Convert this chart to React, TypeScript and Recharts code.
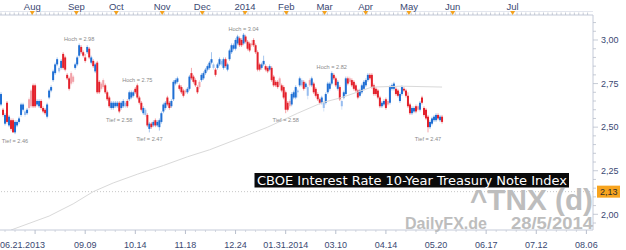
import React from 'react';
import { ComposedChart, Bar, Line, Scatter, XAxis, YAxis, ReferenceLine } from 'recharts';

// ---- daily candles (trading-day index 0 .. 220) ----
const OPEN = [
  2.63, 2.60, 2.52, 2.64, 2.51, 2.54, 2.54, 2.47, 2.51, 2.53,
  2.57, 2.60, 2.57, 2.58, 2.66, 2.71, 2.74, 2.74, 2.63, 2.62,
  2.65, 2.61, 2.60, 2.56, 2.67, 2.71, 2.77, 2.81, 2.86, 2.82,
  2.84, 2.92, 2.90, 2.80, 2.78, 2.81, 2.79, 2.84, 2.86, 2.91,
  2.96, 2.93, 2.90, 2.93, 2.95, 2.87, 2.88, 2.82, 2.87, 2.76,
  2.75, 2.77, 2.74, 2.70, 2.67, 2.61, 2.61, 2.62, 2.62, 2.64,
  2.61, 2.62, 2.62, 2.65, 2.66, 2.67, 2.68, 2.72, 2.74, 2.67,
  2.64, 2.58, 2.57, 2.57, 2.49, 2.52, 2.51, 2.54, 2.51, 2.50,
  2.53, 2.59, 2.61, 2.67, 2.64, 2.62, 2.66, 2.75, 2.76, 2.74,
  2.73, 2.71, 2.71, 2.70, 2.72, 2.81, 2.79, 2.77, 2.73, 2.76,
  2.77, 2.78, 2.81, 2.83, 2.84, 2.87, 2.84, 2.83, 2.84, 2.86,
  2.86, 2.84, 2.89, 2.83, 2.89, 2.93, 2.95, 2.95, 2.98, 3.01,
  3.00, 2.98, 3.02, 2.99, 2.98, 2.98, 3.00, 2.97, 2.93, 2.86,
  2.84, 2.86, 2.85, 2.84, 2.83, 2.84, 2.79, 2.76, 2.76, 2.78,
  2.74, 2.73, 2.70, 2.64, 2.65, 2.63, 2.67, 2.67, 2.70, 2.74,
  2.74, 2.76, 2.73, 2.68, 2.77, 2.74, 2.75, 2.72, 2.69, 2.66,
  2.64, 2.61, 2.64, 2.70, 2.72, 2.75, 2.80, 2.78, 2.72, 2.73,
  2.62, 2.67, 2.69, 2.78, 2.78, 2.77, 2.76, 2.74, 2.71, 2.68,
  2.70, 2.72, 2.74, 2.77, 2.80, 2.80, 2.74, 2.72, 2.71, 2.67,
  2.62, 2.63, 2.66, 2.65, 2.64, 2.72, 2.72, 2.72, 2.71, 2.65,
  2.69, 2.72, 2.71, 2.68, 2.63, 2.58, 2.59, 2.62, 2.62, 2.60,
  2.67, 2.61, 2.60, 2.56, 2.50, 2.52, 2.54, 2.54, 2.57, 2.54,
  2.56,
];
const HIGH = [
  2.70, 2.61, 2.58, 2.65, 2.57, 2.55, 2.55, 2.54, 2.54, 2.56,
  2.64, 2.64, 2.60, 2.61, 2.67, 2.72, 2.75, 2.75, 2.66, 2.66,
  2.66, 2.62, 2.61, 2.64, 2.72, 2.74, 2.83, 2.87, 2.90, 2.85,
  2.89, 2.93, 2.91, 2.81, 2.79, 2.82, 2.80, 2.87, 2.91, 2.98,
  2.97, 2.94, 2.92, 2.97, 2.96, 2.91, 2.89, 2.87, 2.88, 2.77,
  2.76, 2.78, 2.75, 2.71, 2.68, 2.65, 2.65, 2.65, 2.65, 2.65,
  2.65, 2.66, 2.65, 2.66, 2.71, 2.71, 2.71, 2.73, 2.75, 2.68,
  2.65, 2.62, 2.61, 2.58, 2.53, 2.53, 2.54, 2.55, 2.54, 2.55,
  2.59, 2.64, 2.65, 2.68, 2.65, 2.66, 2.77, 2.78, 2.79, 2.75,
  2.74, 2.72, 2.72, 2.73, 2.80, 2.84, 2.80, 2.78, 2.74, 2.77,
  2.81, 2.82, 2.84, 2.86, 2.88, 2.93, 2.87, 2.84, 2.87, 2.90,
  2.89, 2.90, 2.90, 2.87, 2.95, 2.98, 2.98, 3.01, 3.03, 3.02,
  3.01, 3.04, 3.03, 3.00, 2.99, 3.00, 3.01, 2.98, 2.94, 2.87,
  2.87, 2.91, 2.86, 2.85, 2.86, 2.85, 2.80, 2.77, 2.77, 2.79,
  2.75, 2.74, 2.71, 2.65, 2.66, 2.70, 2.71, 2.74, 2.72, 2.79,
  2.78, 2.77, 2.76, 2.74, 2.78, 2.79, 2.76, 2.73, 2.70, 2.67,
  2.68, 2.65, 2.70, 2.76, 2.76, 2.82, 2.81, 2.79, 2.77, 2.74,
  2.66, 2.71, 2.79, 2.79, 2.79, 2.78, 2.77, 2.75, 2.72, 2.72,
  2.75, 2.77, 2.78, 2.81, 2.81, 2.81, 2.75, 2.73, 2.72, 2.68,
  2.65, 2.66, 2.67, 2.66, 2.74, 2.75, 2.76, 2.73, 2.72, 2.70,
  2.74, 2.73, 2.72, 2.70, 2.64, 2.62, 2.62, 2.63, 2.63, 2.65,
  2.68, 2.62, 2.61, 2.57, 2.54, 2.56, 2.57, 2.58, 2.58, 2.57,
  2.57,
];
const LOW = [
  2.62, 2.56, 2.51, 2.52, 2.50, 2.48, 2.47, 2.46, 2.50, 2.52,
  2.56, 2.59, 2.56, 2.57, 2.60, 2.61, 2.61, 2.61, 2.62, 2.61,
  2.60, 2.58, 2.57, 2.55, 2.66, 2.70, 2.76, 2.80, 2.85, 2.81,
  2.83, 2.83, 2.82, 2.77, 2.71, 2.74, 2.75, 2.83, 2.85, 2.90,
  2.92, 2.90, 2.87, 2.92, 2.89, 2.86, 2.84, 2.81, 2.69, 2.69,
  2.71, 2.72, 2.69, 2.65, 2.61, 2.60, 2.60, 2.61, 2.61, 2.58,
  2.60, 2.61, 2.61, 2.61, 2.65, 2.66, 2.67, 2.69, 2.66, 2.63,
  2.59, 2.57, 2.56, 2.50, 2.47, 2.49, 2.50, 2.50, 2.50, 2.48,
  2.52, 2.58, 2.60, 2.62, 2.60, 2.61, 2.65, 2.74, 2.75, 2.71,
  2.69, 2.67, 2.69, 2.69, 2.71, 2.77, 2.75, 2.73, 2.69, 2.72,
  2.76, 2.77, 2.80, 2.82, 2.83, 2.86, 2.83, 2.79, 2.83, 2.85,
  2.85, 2.83, 2.84, 2.82, 2.88, 2.92, 2.94, 2.94, 2.97, 2.96,
  2.96, 2.97, 2.98, 2.94, 2.93, 2.96, 2.96, 2.92, 2.82, 2.82,
  2.83, 2.85, 2.82, 2.81, 2.82, 2.76, 2.73, 2.73, 2.72, 2.73,
  2.70, 2.66, 2.58, 2.59, 2.61, 2.62, 2.66, 2.66, 2.67, 2.73,
  2.73, 2.71, 2.72, 2.66, 2.73, 2.73, 2.69, 2.67, 2.65, 2.63,
  2.63, 2.59, 2.63, 2.69, 2.71, 2.74, 2.77, 2.73, 2.71, 2.65,
  2.60, 2.66, 2.68, 2.74, 2.75, 2.73, 2.71, 2.70, 2.66, 2.67,
  2.69, 2.71, 2.73, 2.76, 2.77, 2.72, 2.68, 2.68, 2.66, 2.61,
  2.61, 2.62, 2.60, 2.62, 2.63, 2.71, 2.71, 2.68, 2.67, 2.64,
  2.68, 2.70, 2.67, 2.61, 2.57, 2.57, 2.58, 2.58, 2.59, 2.59,
  2.63, 2.56, 2.54, 2.47, 2.49, 2.51, 2.53, 2.53, 2.54, 2.53,
  2.52,
];
const CLOSE = [
  2.69, 2.57, 2.57, 2.53, 2.56, 2.49, 2.47, 2.53, 2.53, 2.55,
  2.63, 2.63, 2.59, 2.60, 2.61, 2.62, 2.62, 2.62, 2.65, 2.65,
  2.61, 2.59, 2.58, 2.63, 2.71, 2.73, 2.82, 2.86, 2.89, 2.84,
  2.88, 2.84, 2.83, 2.78, 2.72, 2.75, 2.76, 2.86, 2.90, 2.97,
  2.93, 2.91, 2.88, 2.96, 2.90, 2.90, 2.85, 2.86, 2.70, 2.70,
  2.72, 2.73, 2.70, 2.66, 2.62, 2.64, 2.64, 2.64, 2.64, 2.59,
  2.64, 2.65, 2.64, 2.62, 2.70, 2.70, 2.70, 2.70, 2.67, 2.64,
  2.60, 2.61, 2.60, 2.51, 2.52, 2.50, 2.53, 2.51, 2.53, 2.54,
  2.58, 2.63, 2.64, 2.63, 2.61, 2.65, 2.76, 2.77, 2.78, 2.72,
  2.70, 2.68, 2.70, 2.72, 2.79, 2.78, 2.76, 2.74, 2.70, 2.73,
  2.80, 2.81, 2.83, 2.85, 2.87, 2.89, 2.86, 2.80, 2.86, 2.89,
  2.88, 2.89, 2.85, 2.86, 2.94, 2.97, 2.97, 3.00, 3.02, 2.97,
  2.97, 3.03, 2.99, 2.95, 2.94, 2.97, 2.97, 2.93, 2.83, 2.83,
  2.86, 2.88, 2.83, 2.82, 2.85, 2.77, 2.74, 2.74, 2.73, 2.74,
  2.71, 2.67, 2.60, 2.60, 2.62, 2.69, 2.70, 2.73, 2.71, 2.78,
  2.77, 2.72, 2.75, 2.73, 2.74, 2.78, 2.70, 2.68, 2.66, 2.64,
  2.67, 2.64, 2.69, 2.75, 2.75, 2.81, 2.78, 2.74, 2.76, 2.66,
  2.65, 2.70, 2.78, 2.75, 2.76, 2.74, 2.72, 2.71, 2.67, 2.71,
  2.74, 2.76, 2.77, 2.80, 2.78, 2.73, 2.69, 2.69, 2.67, 2.62,
  2.64, 2.65, 2.61, 2.63, 2.73, 2.74, 2.75, 2.69, 2.68, 2.69,
  2.73, 2.71, 2.68, 2.62, 2.58, 2.61, 2.61, 2.59, 2.60, 2.64,
  2.64, 2.57, 2.55, 2.50, 2.53, 2.55, 2.56, 2.57, 2.55, 2.56,
  2.53,
];

// ---- light-grey moving average, read at points along the line ----
const MA_INDEX = [5, 24, 36, 46, 56, 68, 81, 93, 104, 122, 133, 148, 160, 170, 185, 200, 220];
const MA_VALUE = [1.91, 1.99, 2.06, 2.13, 2.18, 2.23, 2.28, 2.33, 2.37, 2.45, 2.50, 2.58, 2.64, 2.67, 2.73, 2.735, 2.73];

// ---- high / low annotations ----
const ANNOT_INDEX = [7, 39, 59, 68, 74, 121, 142, 165, 213];
const ANNOT_KIND = ['Tief', 'Hoch', 'Tief', 'Hoch', 'Tief', 'Hoch', 'Tief', 'Hoch', 'Tief'];
const ANNOT_VALUE = [2.46, 2.98, 2.58, 2.75, 2.47, 3.04, 2.58, 2.82, 2.47];

// ---- axes ----
const MONTH_TICKS = [15.6, 37.6, 57.5, 80.4, 100.4, 121.7, 142.3, 161.4, 181.9, 203.5, 225.3, 255.2];
const MONTH_LABELS = ['Aug', 'Sep', 'Oct', 'Nov', 'Dec', '2014', 'Feb', 'Mar', 'Apr', 'May', 'Jun', 'Jul'];
const DATE_TICKS = [17, 42, 67, 92, 117, 142, 167, 192, 217, 242, 267, 292];
const DATE_LABELS = ['', '09.09', '10.14', '11.18', '12.24', '01.31.2014', '03.10', '04.14', '05.20', '06.17', '07.12', '08.06'];
const START_LABEL = '06.21.2013';
const Y_LABEL_TICKS = [2.0, 2.25, 2.5, 2.75, 3.0];
const LAST_VALUE = 2.13;

const TITLE = 'CBOE Interest Rate 10-Year Treasury Note Index';
const SYMBOL = '^TNX (d)';
const SOURCE = 'DailyFX.de';
const DATE = '28/5/2014';

const X_DOMAIN: [number, number] = [-0.5, 295.3];
const Y_DOMAIN: [number, number] = [1.91, 3.1434];

const maByIndex = new Map<number, number>();
MA_INDEX.forEach((idx, k) => maByIndex.set(idx, MA_VALUE[k]));

const DATA = OPEN.map((o, i) => ({
  i,
  open: o,
  high: HIGH[i],
  low: LOW[i],
  close: CLOSE[i],
  prev: i > 0 ? CLOSE[i - 1] : o,
  ma: maByIndex.has(i) ? maByIndex.get(i) : null,
}));

const ANNOTATIONS = ANNOT_INDEX.map((idx, k) => ({ i: idx, v: ANNOT_VALUE[k], kind: ANNOT_KIND[k] }));

const AXIS_FONT = 'Liberation Sans, Arial, sans-serif';
const AXIS_TEXT = '#3a4872';
const AXIS_LINE = '#c4cad8';

const near = (a: number, b: number) => Math.abs(a - b) < 1e-6;

const Candle = (props: any) => {
  const { x, y, width, height, payload } = props;
  if (!payload || height == null || isNaN(y)) return null;
  const { open, close, high, low, prev } = payload;
  const up = close >= open;
  const strong = up ? close >= prev : close <= prev;
  const color = up ? (strong ? '#1f6fd4' : '#98bdef') : (strong ? '#e3212b' : '#f2a1a8');
  const ppu = height / (high - low);
  const top = y + (high - Math.max(open, close)) * ppu;
  const bot = y + (high - Math.min(open, close)) * ppu;
  const cx = x + width / 2;
  const bw = 2;
  return (
    <g>
      <line x1={cx} x2={cx} y1={y} y2={y + height} stroke={color} strokeOpacity={0.45} strokeWidth={0.9} />
      <rect x={cx - bw / 2} y={top} width={bw} height={Math.max(1, bot - top)} fill={color} />
    </g>
  );
};

const AnnotText = (props: any) => {
  const { cx, cy, payload } = props;
  if (cx == null || cy == null || !payload) return null;
  const hoch = payload.kind === 'Hoch';
  return (
    <text
      x={cx}
      y={hoch ? cy - 2 : cy + 9}
      textAnchor="middle"
      fontSize={5.6}
      fill="#8a8a8a"
      fontFamily={AXIS_FONT}
    >
      {`${payload.kind} = ${payload.v.toFixed(2)}`}
    </text>
  );
};

const TopTick = (props: any) => {
  const { x, y, payload } = props;
  const v = payload.value;
  const m = MONTH_TICKS.findIndex((t) => near(t, v));
  if (m >= 0) {
    return (
      <g>
        <text x={x} y={y - 5.5} textAnchor="middle" fontSize={9.5} fill={AXIS_TEXT} fontFamily={AXIS_FONT}>
          {MONTH_LABELS[m]}
        </text>
        <polygon points={`${x - 2.5},${y - 4} ${x + 2.5},${y - 4} ${x},${y}`} fill="#f4a21d" />
      </g>
    );
  }
  return <line x1={x} x2={x} y1={y} y2={y - 2.5} stroke="#b9bfcc" strokeWidth={0.8} />;
};

const BottomTick = (props: any) => {
  const { x, y, payload } = props;
  const v = payload.value;
  if (near(v, X_DOMAIN[0])) {
    return (
      <text x={x} y={y + 18} textAnchor="start" fontSize={9} fill={AXIS_TEXT} fontFamily={AXIS_FONT}>
        {START_LABEL}
      </text>
    );
  }
  const d = DATE_TICKS.findIndex((t) => near(t, v));
  if (d >= 0) {
    return (
      <g>
        <line x1={x} x2={x} y1={y} y2={y + 4} stroke="#b9bfcc" strokeWidth={1} />
        {DATE_LABELS[d] && (
          <text x={x} y={y + 18} textAnchor="middle" fontSize={9} fill={AXIS_TEXT} fontFamily={AXIS_FONT}>
            {DATE_LABELS[d]}
          </text>
        )}
      </g>
    );
  }
  return <line x1={x} x2={x} y1={y} y2={y + 2} stroke="#c9ced9" strokeWidth={0.8} />;
};

const fmt = (v: number) => v.toFixed(2).replace('.', ',');

const RightTick = (props: any) => {
  const { x, y, payload } = props;
  const v = payload.value;
  if (near(v, LAST_VALUE)) {
    return (
      <g>
        <rect x={x + 4} y={y - 6} width={23} height={12} fill="#f7a41f" />
        <text x={x + 7} y={y + 3.3} fontSize={9} fill="#2d2d2d" fontFamily={AXIS_FONT}>
          {fmt(v)}
        </text>
      </g>
    );
  }
  const major = Y_LABEL_TICKS.some((t) => near(t, v));
  return (
    <g>
      <line x1={x} x2={x + (major ? 5 : 3)} y1={y} y2={y} stroke="#b9bfcc" strokeWidth={0.8} />
      {major && (
        <text x={x + 8} y={y + 3.3} fontSize={9} fill={AXIS_TEXT} fontFamily={AXIS_FONT}>
          {fmt(v)}
        </text>
      )}
    </g>
  );
};

const TOP_MINOR = Array.from({ length: 134 }, (_, k) => k * 2.2).filter(
  (t) => !MONTH_TICKS.some((m) => Math.abs(m - t) < 0.05),
);
const TOP_TICKS = [...TOP_MINOR, ...MONTH_TICKS];
const BOTTOM_MINOR = Array.from({ length: 59 }, (_, k) => 2 + 5 * k);
const BOTTOM_TICKS = [X_DOMAIN[0], ...BOTTOM_MINOR];
const RIGHT_TICKS = [...Array.from({ length: 24 }, (_, k) => Math.round((1.95 + 0.05 * k) * 100) / 100), LAST_VALUE];

export default function App() {
  return (
    <div style={{ position: 'absolute', left: 0, top: 0, width: 626, height: 250, background: '#fff' }}>
      <div style={{ position: 'absolute', left: 0, top: 11, width: 593, height: 0, borderTop: '1px solid #e3e6ee' }} />
      <ComposedChart width={626} height={250} data={DATA} margin={{ top: 0, right: 0, bottom: 0, left: 0 }}>
        <XAxis
          xAxisId="top"
          orientation="top"
          type="number"
          dataKey="i"
          domain={X_DOMAIN}
          allowDataOverflow
          height={15}
          ticks={TOP_TICKS}
          interval={0}
          tickSize={0}
          tickMargin={0}
          tickLine={false}
          axisLine={{ stroke: AXIS_LINE }}
          tick={<TopTick />}
        />
        <XAxis
          type="number"
          dataKey="i"
          domain={X_DOMAIN}
          allowDataOverflow
          height={20}
          ticks={BOTTOM_TICKS}
          interval={0}
          tickSize={0}
          tickMargin={0}
          tickLine={false}
          axisLine={{ stroke: AXIS_LINE }}
          tick={<BottomTick />}
        />
        <YAxis
          orientation="right"
          type="number"
          domain={Y_DOMAIN}
          allowDataOverflow
          width={33}
          ticks={RIGHT_TICKS}
          interval={0}
          tickSize={0}
          tickMargin={0}
          tickLine={false}
          axisLine={{ stroke: AXIS_LINE }}
          tick={<RightTick />}
        />
        <ReferenceLine y={LAST_VALUE} stroke="#c8c8c8" strokeDasharray="1 2" />
        <Line
          dataKey="ma"
          connectNulls
          dot={false}
          activeDot={false}
          stroke="#d9d9d9"
          strokeWidth={1}
          isAnimationActive={false}
        />
        <Bar
          dataKey={(d: any) => [d.low, d.high]}
          barSize={2}
          shape={(p: any) => <Candle {...p} />}
          isAnimationActive={false}
        />
        <Scatter data={ANNOTATIONS} dataKey="v" shape={(p: any) => <AnnotText {...p} />} isAnimationActive={false} />
      </ComposedChart>
      <svg width={626} height={250} style={{ position: 'absolute', left: 0, top: 0, pointerEvents: 'none' }}>
        <rect x={254.5} y={173} width={314.5} height={14.5} fill="#0a0a0a" />
        <text
          x={257}
          y={184.6}
          fontSize={12.5}
          fill="#ffffff"
          fontFamily="DejaVu Sans, Verdana, sans-serif"
          textLength={310}
          lengthAdjust="spacingAndGlyphs"
        >
          {TITLE}
        </text>
        <text
          x={593}
          y={209.5}
          textAnchor="end"
          fontSize={29}
          fontWeight="bold"
          fill="#bdbdbd"
          fontFamily={AXIS_FONT}
          textLength={123}
          lengthAdjust="spacingAndGlyphs"
        >
          {SYMBOL}
        </text>
        <text
          x={405}
          y={228.5}
          fontSize={17}
          fontWeight="bold"
          fill="#bdbdbd"
          fontFamily={AXIS_FONT}
          textLength={82}
          lengthAdjust="spacingAndGlyphs"
        >
          {SOURCE}
        </text>
        <text
          x={593}
          y={228.5}
          textAnchor="end"
          fontSize={17}
          fontWeight="bold"
          fill="#bdbdbd"
          fontFamily={AXIS_FONT}
          textLength={82}
          lengthAdjust="spacingAndGlyphs"
        >
          {DATE}
        </text>
      </svg>
    </div>
  );
}
